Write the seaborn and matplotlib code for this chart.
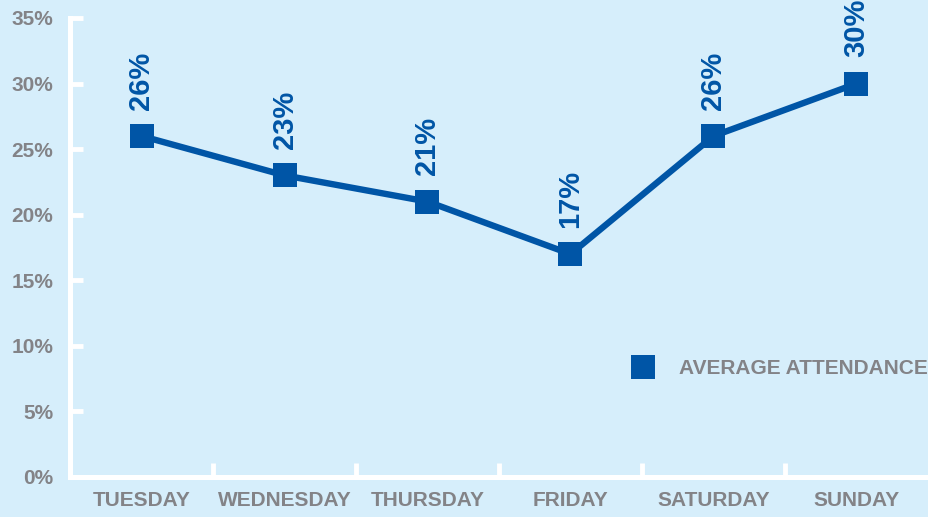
import matplotlib
matplotlib.use("Agg")
import matplotlib.pyplot as plt
from matplotlib.lines import Line2D
import numpy as np
import pandas as pd
import seaborn as sns

days = ['TUESDAY', 'WEDNESDAY', 'THURSDAY', 'FRIDAY', 'SATURDAY', 'SUNDAY']
attendance = [26, 23, 21, 17, 26, 30]
y_ticks = [0, 5, 10, 15, 20, 25, 30, 35]
series_name = 'AVERAGE ATTENDANCE'

bg = '#d6eefb'
blue = '#0055a6'
grey = '#838387'

sns.set_theme(style='white', rc={'axes.facecolor': bg, 'figure.facecolor': bg})
plt.rcParams['font.family'] = ['Liberation Sans', 'DejaVu Sans']
plt.rcParams['font.weight'] = 'bold'

df = pd.DataFrame({'day': np.arange(len(days)), 'pct': attendance})

fig = plt.figure(figsize=(9.29, 5.17), dpi=100)
ax = fig.add_axes([70 / 929, 40 / 517, 858 / 929, 459 / 517])

sns.lineplot(data=df, x='day', y='pct', ax=ax, color=blue, linewidth=4.6,
             marker='s', markersize=17.5, markeredgewidth=0, markerfacecolor=blue)

# rotated value labels above each point
for i, v in enumerate(attendance):
    ax.annotate(f'{v}%', (i, v), xytext=(0, 19), textcoords='offset points',
                rotation=90, ha='center', va='bottom', color=blue,
                fontsize=21, fontweight='bold', annotation_clip=False)

ax.set_xlim(-0.5, len(days) - 0.5)
ax.set_ylim(0, 35)
ax.set_xlabel('')
ax.set_ylabel('')

ax.set_yticks(y_ticks)
ax.set_yticklabels([f'{t}%' for t in y_ticks], color=grey, fontsize=15, fontweight='bold')
ax.set_xticks(np.arange(len(days)))
ax.set_xticklabels(days, color=grey, fontsize=15, fontweight='bold')
ax.tick_params(axis='x', which='major', length=0, pad=10)
ax.tick_params(axis='y', direction='in', length=9, width=3.5, color='white', pad=12, left=True)

# category boundary ticks on the x axis
ax.set_xticks(np.arange(0.5, len(days) - 0.5, 1), minor=True)
ax.tick_params(axis='x', which='minor', direction='in', length=10, width=3.5,
               color='white', bottom=True)

for side in ['top', 'right']:
    ax.spines[side].set_visible(False)
for side in ['left', 'bottom']:
    ax.spines[side].set_color('white')
    ax.spines[side].set_linewidth(3.6)
ax.spines['left'].set_capstyle('projecting')

handle = Line2D([], [], linestyle='none', marker='s', markersize=17.5,
                markerfacecolor=blue, markeredgewidth=0)
leg = ax.legend([handle], [series_name], loc='center left',
                bbox_to_anchor=(622 / 929, 1 - 369 / 517), bbox_transform=fig.transFigure,
                frameon=False, handletextpad=0.75, borderpad=0, borderaxespad=0,
                fontsize=15)
for t in leg.get_texts():
    t.set_color(grey)
    t.set_fontweight('bold')

fig.savefig('out.png', dpi=100, facecolor=bg)
